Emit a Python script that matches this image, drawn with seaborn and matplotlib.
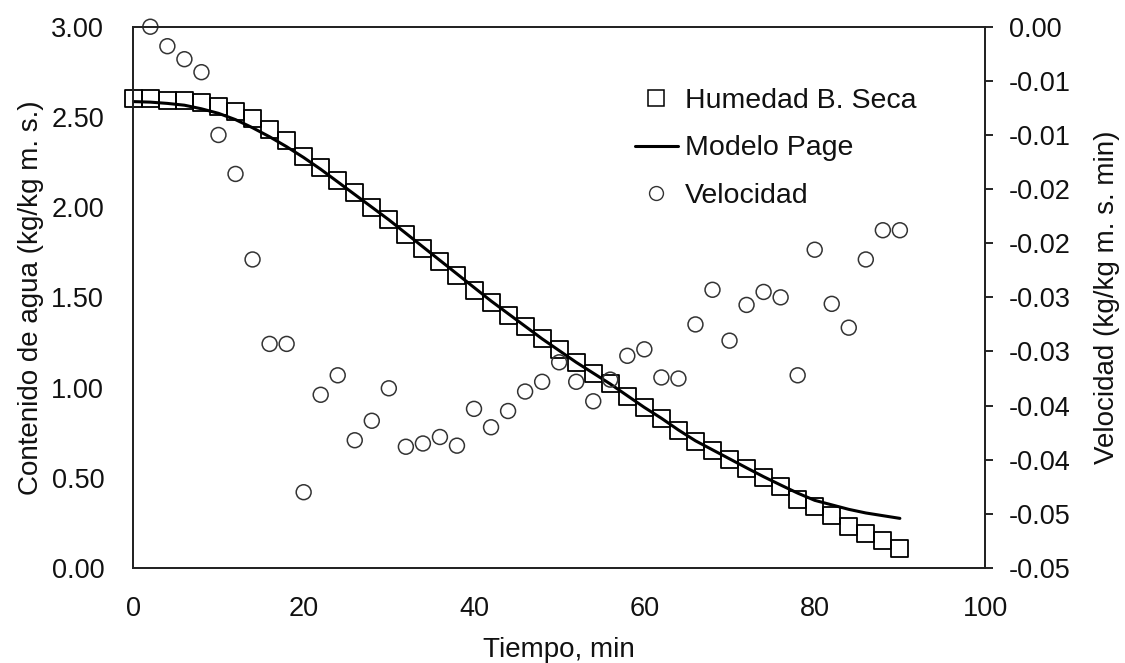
import numpy as np
import pandas as pd
import matplotlib
matplotlib.use("Agg")
import matplotlib.pyplot as plt
import seaborn as sns
from matplotlib.lines import Line2D

# ---------------- data ----------------
tiempo = list(range(0, 92, 2))  # 0..90 min
humedad = [2.60, 2.60, 2.59, 2.59, 2.58, 2.56, 2.53, 2.49, 2.43, 2.37,
           2.28, 2.22, 2.15, 2.08, 2.00, 1.93, 1.85, 1.77, 1.70, 1.62,
           1.54, 1.47, 1.40, 1.34, 1.27, 1.21, 1.14, 1.08, 1.02, 0.95,
           0.89, 0.83, 0.76, 0.70, 0.65, 0.60, 0.55, 0.50, 0.45, 0.38,
           0.34, 0.29, 0.23, 0.19, 0.15, 0.11]
modelo_page = [2.585, 2.582, 2.575, 2.565, 2.545, 2.52, 2.485, 2.44, 2.39, 2.335,
               2.275, 2.21, 2.14, 2.07, 2.00, 1.93, 1.855, 1.78, 1.705, 1.63,
               1.555, 1.48, 1.41, 1.34, 1.27, 1.205, 1.14, 1.08, 1.02, 0.955,
               0.89, 0.83, 0.765, 0.705, 0.655, 0.605, 0.555, 0.506, 0.46, 0.415,
               0.375, 0.35, 0.325, 0.305, 0.29, 0.275]
tiempo_vel = list(range(2, 92, 2))  # 2..90 min
velocidad = [0.0000, -0.0018, -0.0030, -0.0042, -0.0100, -0.0136, -0.0215, -0.0293, -0.0293,
             -0.0430, -0.0340, -0.0322, -0.0382, -0.0364, -0.0334, -0.0388, -0.0385, -0.0379,
             -0.0387, -0.0353, -0.0370, -0.0355, -0.0337, -0.0328, -0.0310, -0.0328, -0.0346,
             -0.0326, -0.0304, -0.0298, -0.0324, -0.0325, -0.0275, -0.0243, -0.0290, -0.0257,
             -0.0245, -0.0250, -0.0322, -0.0206, -0.0256, -0.0278, -0.0215, -0.0188, -0.0188]

x_ticks = [0, 20, 40, 60, 80, 100]
left_ticks = [0.0, 0.5, 1.0, 1.5, 2.0, 2.5, 3.0]
left_tick_labels = ["0.00", "0.50", "1.00", "1.50", "2.00", "2.50", "3.00"]
right_ticks = [0.0, -0.005, -0.010, -0.015, -0.020, -0.025, -0.030, -0.035, -0.040, -0.045, -0.050]
right_tick_labels = ["0.00", "-0.01", "-0.01", "-0.02", "-0.02", "-0.03", "-0.03",
                     "-0.04", "-0.04", "-0.05", "-0.05"]

df_h = pd.DataFrame({"t": tiempo, "h": humedad, "m": modelo_page})
df_v = pd.DataFrame({"t": tiempo_vel, "v": velocidad})

# ---------------- style ----------------
sns.set_style("white")
plt.rcParams["font.family"] = ["Liberation Sans", "DejaVu Sans"]
plt.rcParams["text.color"] = "#111111"
plt.rcParams["axes.labelcolor"] = "#111111"
plt.rcParams["xtick.color"] = "#111111"
plt.rcParams["ytick.color"] = "#111111"
FS = 19.5
FS_LAB = 20
FS_LEG = 20.5

fig = plt.figure(figsize=(11.25, 6.63), dpi=100)
ax = fig.add_axes([0.1185, 0.1433, 0.7571, 0.8164])
ax2 = ax.twinx()

# model line and squares on the primary axis
sns.lineplot(data=df_h, x="t", y="m", ax=ax, color="black", linewidth=2.2,
             zorder=3, legend=False)
sns.scatterplot(data=df_h, x="t", y="h", ax=ax, marker="s", s=150,
                facecolor="none", edgecolor="black", linewidth=1.3,
                zorder=2, legend=False, clip_on=False)

# velocity circles on the secondary axis
sns.scatterplot(data=df_v, x="t", y="v", ax=ax2, marker="o", s=115,
                facecolor="none", edgecolor="#333333", linewidth=1.1,
                legend=False, clip_on=False)

# axes limits / ticks
ax.set_xlim(0, 100)
ax.set_ylim(0, 3.0)
ax2.set_ylim(-0.05, 0.0)
ax.set_xticks(x_ticks)
ax.set_xticklabels([str(v) for v in x_ticks], fontsize=FS)
ax.set_yticks(left_ticks)
ax.set_yticklabels(left_tick_labels, fontsize=FS)
ax2.set_yticks(right_ticks)
ax2.set_yticklabels(right_tick_labels, fontsize=FS)

ax.tick_params(axis="x", length=0, pad=20)
ax.tick_params(axis="y", length=0, pad=21)
ax2.tick_params(axis="y", length=6, width=1.2, direction="out", pad=11, color="black")

ax.set_xlabel("Tiempo, min", fontsize=FS_LAB, labelpad=11)
ax.set_ylabel("Contenido de agua (kg/kg m. s.)", fontsize=FS_LAB, labelpad=5)
ax2.set_ylabel("Velocidad (kg/kg m. s. min)", fontsize=FS_LAB, labelpad=17)

for a in (ax, ax2):
    for sp in a.spines.values():
        sp.set_visible(True)
        sp.set_color("#222222")
        sp.set_linewidth(1.3)
ax.grid(False)
ax2.grid(False)

# legend
handles = [
    Line2D([], [], marker="s", linestyle="none", markersize=11,
           markerfacecolor="none", markeredgecolor="black", markeredgewidth=1.1),
    Line2D([], [], color="black", linewidth=2.2),
    Line2D([], [], marker="o", linestyle="none", markersize=10,
           markerfacecolor="none", markeredgecolor="#333333", markeredgewidth=1.0),
]
labels = ["Humedad B. Seca", "Modelo Page", "Velocidad"]
ax2.legend(handles, labels, loc="upper left", bbox_to_anchor=(0.589, 0.886),
           frameon=False, fontsize=FS_LEG, handlelength=1.5, handletextpad=0.25,
           labelspacing=0.74, borderaxespad=0, borderpad=0)

fig.savefig("out.png", dpi=100, facecolor="white")
